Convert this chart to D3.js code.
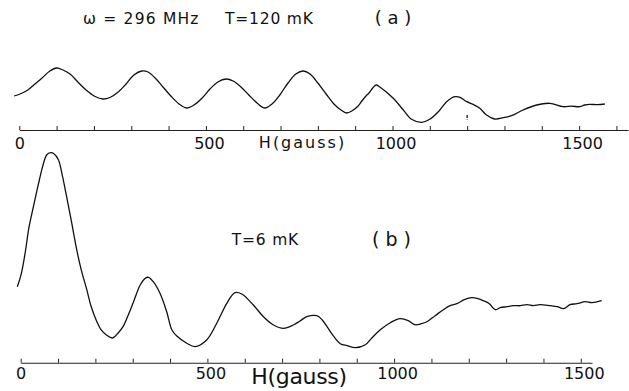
<!DOCTYPE html>
<html>
<head>
<meta charset="utf-8">
<script src="https://cdn.jsdelivr.net/npm/d3@7"></script>
<style>
  body { margin: 0; background: #fff; }
  svg { display: block; font-family: "DejaVu Sans", sans-serif; }
</style>
</head>
<body>
<div id="chart"></div>
<script>
// panel (a): T = 120 mK, field in gauss, signal in arbitrary units
const fieldA = [-14, 2, 23, 42, 61, 82, 100, 117, 136, 157, 179, 203, 224, 243, 265, 286, 307, 328, 345, 364,
  385, 406, 428, 448, 468, 490, 511, 532, 554, 573, 594, 615, 637, 658, 677, 698, 720, 741, 761, 779,
  800, 822, 843, 862, 877, 891, 908, 918, 929, 937, 947, 956, 966, 1002, 1029, 1051, 1078, 1100, 1123, 1145,
  1167, 1181, 1199, 1216, 1234, 1252, 1274, 1297, 1319, 1350, 1386, 1422, 1457, 1480, 1502, 1515, 1529, 1550, 1569];
const signalA = [34, 36, 40, 46, 52, 59, 62, 60, 56, 48, 40, 33.5, 31, 32.5, 38, 46, 55, 59, 58, 52,
  43, 34, 26, 22, 25, 32, 41, 48, 51, 49, 43, 35, 27, 22, 26, 35, 47, 56, 59, 56,
  47, 36, 26, 20, 17, 19, 24, 29, 34, 37, 42, 45, 43, 31.7, 20, 10.7, 7.7, 10.7, 18.3, 28.3,
  33.3, 32.7, 28.3, 25.7, 21.7, 15, 11, 12.3, 14.3, 20, 25, 26.7, 23.3, 23.8, 23.3, 25, 25.7, 25.3, 26];

// panel (b): T = 6 mK
const fieldB = [-9, 1, 12, 22, 34, 44, 52, 60, 70, 80, 89, 101, 111, 123, 135, 150, 162, 177, 188, 204,
  215, 229, 246, 261, 274, 287, 301, 320, 333, 342, 355, 373, 391, 405, 418, 445, 467, 498, 525, 552,
  574, 592, 623, 650, 677, 704, 730, 748, 766, 793, 807, 824, 839, 856, 874, 896, 923,
  941, 963, 990, 1016, 1038, 1056, 1073, 1088, 1110, 1132, 1150, 1168, 1188, 1208, 1225, 1239, 1255, 1271, 1284, 1302,
  1319, 1338, 1356, 1373, 1391, 1418, 1437, 1454, 1471, 1490, 1512, 1530, 1556];
const signalB = [76, 88, 110, 135, 156, 173, 186, 198, 208, 210, 209, 203, 188, 166, 143, 113, 93, 73, 57, 41,
  33, 28, 24.7, 29.7, 36, 46.7, 59.7, 77.7, 84.2, 85.4, 81, 69.4, 51, 32.7, 26.7, 19.4, 16, 22.7, 39.4, 59.4,
  70, 68.7, 57.7, 46, 37.7, 34.4, 37.7, 41.7, 46, 47, 43, 34, 26, 19, 17, 15, 18,
  25, 33, 40, 44, 42, 38, 39, 41, 47, 53, 57, 59, 63, 65, 64, 62, 59, 53, 55, 56,
  57, 57, 58, 57, 58, 57, 56, 54, 58, 59, 61, 60, 62];

const tickValues = d3.range(0, 1601, 100);
const labelValues = [0, 500, 1000, 1500];

const width = 629, height = 391;

const svg = d3.select("#chart").append("svg")
    .attr("width", width)
    .attr("height", height);

// scales (axis lines have different lengths in the two panels)
const xA = d3.scaleLinear().domain([0, 1631]).range([19.3, 628]);
const yA = d3.scaleLinear().domain([0, 70]).range([130, 60]);
const xB = d3.scaleLinear().domain([0, 1530]).range([20.7, 592]);
const yB = d3.scaleLinear().domain([0, 210]).range([362.7, 152.7]);

function drawAxis(x, y0, labelY) {
  const ax = d3.axisBottom(x)
      .tickValues(tickValues.filter(v => v <= x.domain()[1]))
      .tickSizeInner(-4)
      .tickSizeOuter(0)
      .tickFormat(d => labelValues.includes(d) ? d : "");
  const g = svg.append("g")
      .attr("transform", "translate(0," + y0 + ")")
      .call(ax);
  g.select(".domain").attr("stroke", "#222").attr("stroke-width", 1.1);
  g.selectAll(".tick line").attr("stroke", "#222").attr("stroke-width", 1);
  g.selectAll(".tick text")
      .attr("x", d => d > 0 ? 3 : 0)
      .attr("y", labelY)
      .attr("dy", 0)
      .attr("fill", "#111")
      .style("font-size", "16px")
      .style("font-family", "DejaVu Sans, sans-serif");
  return g;
}

drawAxis(xA, 130, 18.6);
drawAxis(xB, 362.7, 16.8);

// curves
const lineA = d3.line()
    .x((d, i) => xA(fieldA[i]))
    .y(d => yA(d))
    .curve(d3.curveCatmullRom.alpha(0.5));
const lineB = d3.line()
    .x((d, i) => xB(fieldB[i]))
    .y(d => yB(d))
    .curve(d3.curveCatmullRom.alpha(0.5));

svg.append("path")
    .datum(signalA)
    .attr("d", lineA)
    .attr("fill", "none")
    .attr("stroke", "#111")
    .attr("stroke-width", 1.3);

svg.append("path")
    .datum(signalB)
    .attr("d", lineB)
    .attr("fill", "none")
    .attr("stroke", "#111")
    .attr("stroke-width", 1.3);

// small dashed marker at 1200 G in panel (a)
svg.append("line")
    .attr("x1", xA(1200)).attr("x2", xA(1200))
    .attr("y1", yA(15)).attr("y2", yA(10))
    .attr("stroke", "#111")
    .attr("stroke-width", 1.3)
    .attr("stroke-dasharray", "3,1.5");

// texts
const txt = (x, y, s, size, anchor) => svg.append("text")
    .attr("x", x).attr("y", y)
    .attr("text-anchor", anchor || "start")
    .attr("fill", "#111")
    .style("font-size", size + "px")
    .text(s);

txt(83, 24, "ω = 296 MHz", 15.5).style("letter-spacing", "1.2px");
txt(225, 24, "T=120 mK", 15.5).style("letter-spacing", "0.8px");
txt(393, 24, "( a )", 18, "middle");
txt(302.5, 148.3, "H(gauss)", 16, "middle").style("letter-spacing", "2px");

txt(231.7, 245, "T=6 mK", 15.5).style("letter-spacing", "0.8px");
txt(391.5, 245.5, "( b )", 19, "middle");
txt(299, 383.7, "H(gauss)", 22, "middle").style("letter-spacing", "-0.3px");
</script>
</body>
</html>
